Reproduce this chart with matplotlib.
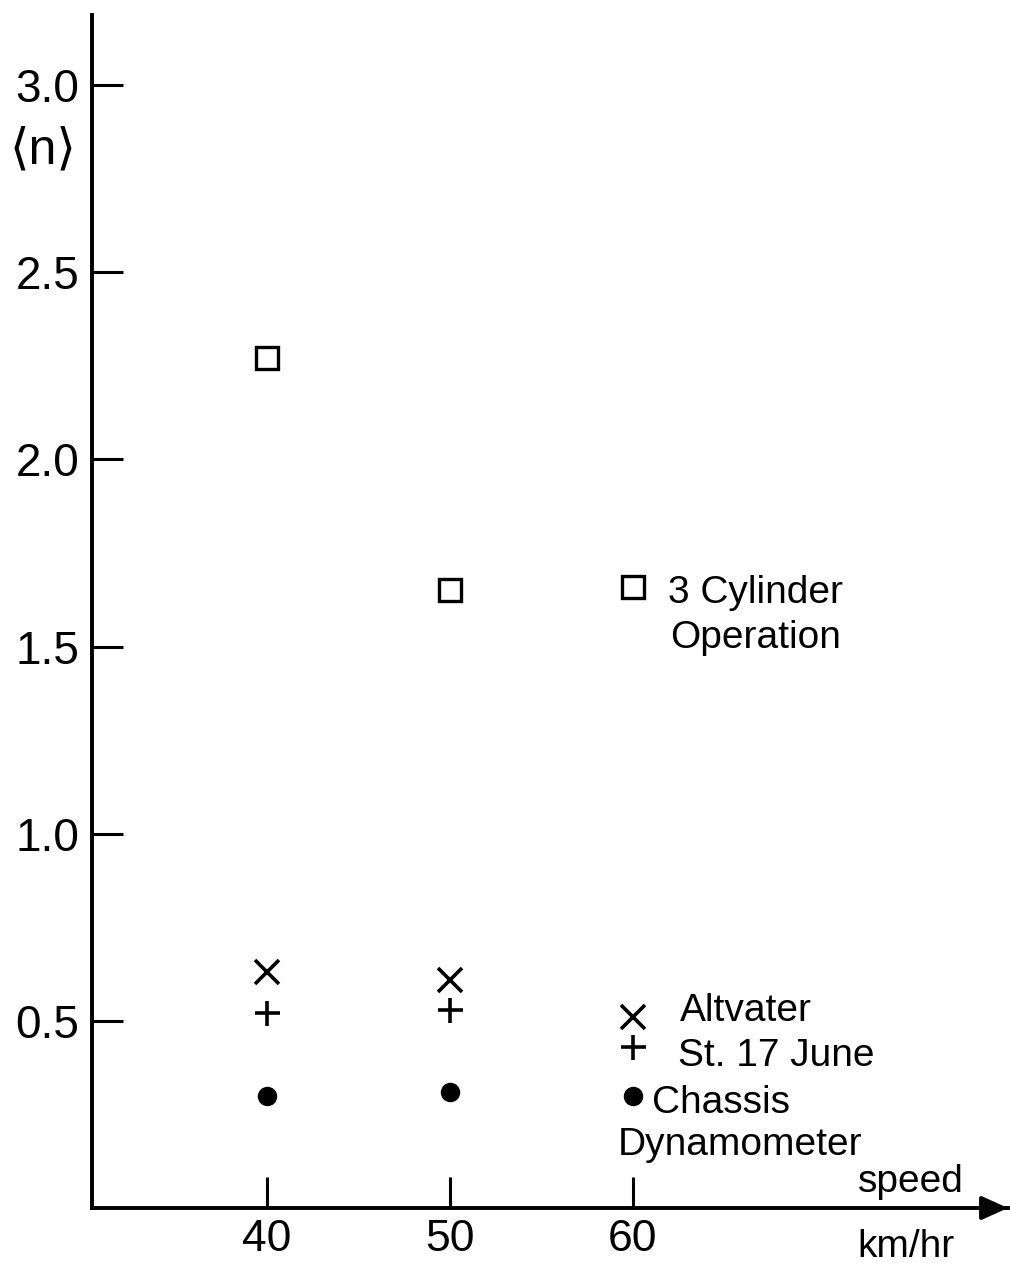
import matplotlib
matplotlib.use("Agg")
import matplotlib.pyplot as plt

# Mean value <n> against vehicle speed (km/hr)
speed = [40, 50, 60]
three_cylinder = [2.27, 1.65, 1.66]
altvater = [0.63, 0.61, 0.51]
st_17_june = [0.52, 0.53, 0.43]
chassis_dyno = [0.30, 0.31, 0.30]

y_ticks = [0.5, 1.0, 1.5, 2.0, 2.5, 3.0]
y_tick_labels = ["0.5", "1.0", "1.5", "2.0", "2.5", "3.0"]
x_ticks = [40, 50, 60]
x_tick_labels = ["40", "50", "60"]

plt.rcParams["font.family"] = ["Liberation Sans", "DejaVu Sans"]

fig = plt.figure(figsize=(10.10, 12.64), dpi=100)
ax = fig.add_axes([92 / 1010, 56 / 1264, 916 / 1010, 1193 / 1264])
ax.set_xlim(30.44, 80.49)
ax.set_ylim(0, 3.187)

for side in ("top", "right"):
    ax.spines[side].set_visible(False)
for side in ("left", "bottom"):
    ax.spines[side].set_linewidth(2.8)
    ax.spines[side].set_color("black")

ax.set_xticks(x_ticks)
ax.set_xticklabels(x_tick_labels)
ax.set_yticks(y_ticks)
ax.set_yticklabels(y_tick_labels)
ax.tick_params(axis="both", direction="in", length=22, width=2.2,
               labelsize=33, color="black")
ax.tick_params(axis="x", pad=8, labelsize=32)
ax.tick_params(axis="y", pad=9)

# arrow head on the speed axis
ax.annotate("", xy=(1.0, 0.0), xycoords="axes fraction",
            xytext=(0.97, 0.0), textcoords="axes fraction",
            arrowprops=dict(arrowstyle="-|>,head_length=1.0,head_width=0.45",
                            mutation_scale=16, color="black", lw=2.8,
                            shrinkA=0, shrinkB=0))

# data series
ax.plot(speed, three_cylinder, linestyle="none", marker="s", markersize=15.5,
        markerfacecolor="none", markeredgecolor="black", markeredgewidth=2.4,
        clip_on=False)
ax.plot(speed, altvater, linestyle="none", marker="x", markersize=17,
        color="black", markeredgewidth=2.6, clip_on=False)
ax.plot(speed, st_17_june, linestyle="none", marker="+", markersize=18,
        color="black", markeredgewidth=2.6, clip_on=False)
ax.plot(speed, chassis_dyno, linestyle="none", marker="o", markersize=13,
        color="black", clip_on=False)

# series labels next to the 60 km/hr points
label_kw = dict(fontsize=28, ha="left", va="baseline", color="black")
ax.text(61.91, 1.616, "3 Cylinder", **label_kw)
ax.text(62.02, 1.496, "Operation", **label_kw)
ax.text(62.57, 0.500, "Altvater", **label_kw)
ax.text(62.46, 0.379, "St. 17 June", **label_kw)
ax.text(61.04, 0.254, "Chassis", **label_kw)
ax.text(59.18, 0.142, "Dynamometer", **label_kw)

# axis titles
ax.text(72.3, 0.043, "speed", fontsize=28, ha="left", va="baseline")
ax.text(72.25, -0.130, "km/hr", fontsize=28, ha="left", va="baseline",
        clip_on=False)
fig.text(43 / 1010, 1 - 150 / 1264, "⟨n⟩", fontsize=36,
         ha="center", va="center")

fig.savefig("out.png", dpi=100, facecolor="white")
